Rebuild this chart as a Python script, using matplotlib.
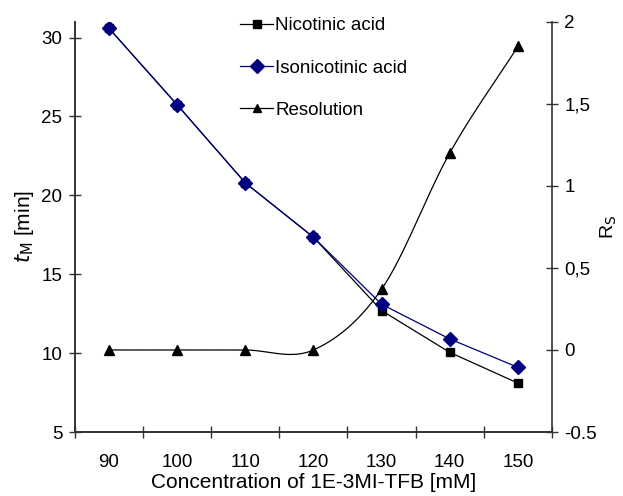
import matplotlib
matplotlib.use("Agg")
import matplotlib.pyplot as plt
import numpy as np

plt.rcParams["font.family"] = ["Liberation Sans", "DejaVu Sans"]

conc = [90, 100, 110, 120, 130, 140, 150]
nicotinic = [30.6, 25.75, 20.8, 17.35, 12.7, 10.05, 8.1]
isonicotinic = [30.6, 25.75, 20.8, 17.35, 13.1, 10.9, 9.1]
resolution = [0.0, 0.0, 0.0, 0.0, 0.37, 1.2, 1.85]
rs_ticks = [-0.5, 0, 0.5, 1, 1.5, 2]
rs_labels = ["-0.5", "0", "0,5", "1", "1,5", "2"]


def smooth(x, y, n=30):
    # Catmull-Rom style smoothing like a spreadsheet "smoothed line"
    x = np.asarray(x, float); y = np.asarray(y, float)
    px = np.concatenate([[2 * x[0] - x[1]], x, [2 * x[-1] - x[-2]]])
    py = np.concatenate([[2 * y[0] - y[1]], y, [2 * y[-1] - y[-2]]])
    xs, ys = [], []
    t = np.linspace(0, 1, n)
    for i in range(1, len(px) - 2):
        for p, out in ((px, xs), (py, ys)):
            p0, p1, p2, p3 = p[i - 1], p[i], p[i + 1], p[i + 2]
            out.extend(0.5 * ((2 * p1) + (-p0 + p2) * t
                              + (2 * p0 - 5 * p1 + 4 * p2 - p3) * t ** 2
                              + (-p0 + 3 * p1 - 3 * p2 + p3) * t ** 3))
    return np.array(xs), np.array(ys)


xpos = np.arange(len(conc)) + 0.5

fig = plt.figure(figsize=(6.23, 4.96), dpi=100)
ax = fig.add_axes([0.120, 0.129, 0.766, 0.827])
ax2 = ax.twinx()

spine_c = "#333333"
ax.plot(xpos, nicotinic, color="black", lw=0.9, marker="s", ms=6, label="Nicotinic acid")
ax.plot(xpos, isonicotinic, color="#000080", lw=0.9, marker="D", ms=7, label="Isonicotinic acid")
sx, sy = smooth(xpos, resolution)
ax2.plot(sx, sy, color="black", lw=0.9)
ax2.plot(xpos, resolution, color="black", lw=0, marker="^", ms=7)
# legend proxy for resolution
ax.plot([], [], color="black", lw=0.9, marker="^", ms=6, label="Resolution")

ax.set_xlim(0, len(conc))
ax.set_ylim(5, 31)
ax2.set_ylim(-0.5, 2.0)

ax.set_xticks(np.arange(len(conc) + 1))
ax.set_xticklabels([])
ax.set_xticks(xpos, minor=True)
ax.set_xticklabels([str(c) for c in conc], minor=True)
ax.tick_params(axis="x", which="major", direction="inout", length=8, color=spine_c, width=1)
ax.tick_params(axis="x", which="minor", length=0, labelsize=13.5, pad=16)

ax.set_yticks([5, 10, 15, 20, 25, 30])
ax.tick_params(axis="y", direction="inout", length=8, color=spine_c, width=1, labelsize=13.5, pad=5)
ax2.set_yticks(rs_ticks)
ax2.set_yticklabels(rs_labels)
ax2.tick_params(axis="y", direction="inout", length=8, color=spine_c, width=1, labelsize=13.5, pad=5)

for a in (ax, ax2):
    a.spines["top"].set_visible(False)
    for s in ("left", "right", "bottom"):
        a.spines[s].set_color(spine_c)
        a.spines[s].set_linewidth(1.2)
ax.spines["right"].set_visible(False)

ax.set_xlabel("Concentration of 1E-3MI-TFB [mM]", fontsize=15, labelpad=1)
ax.set_ylabel("$\\mathit{t}_{\\mathrm{M}}$ [min]", fontsize=15, labelpad=4)
ax2.set_ylabel("R$_{\\mathrm{S}}$", fontsize=14, labelpad=1)

ax.legend(loc="upper left", bbox_to_anchor=(0.33, 1.03), frameon=False, fontsize=13.5,
          handlelength=1.8, handletextpad=0.1, labelspacing=1.35, borderaxespad=0)

fig.savefig("out.png", dpi=100)
